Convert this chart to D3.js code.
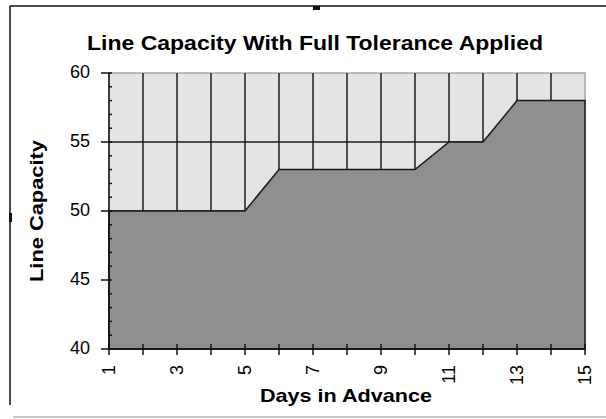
<!DOCTYPE html>
<html>
<head>
<meta charset="utf-8">
<script src="https://cdn.jsdelivr.net/npm/d3@7"></script>
<style>
  html, body { margin: 0; padding: 0; background: #fff; }
  svg { display: block; }
  text { font-family: "Liberation Sans", Arial, sans-serif; fill: #000; }
</style>
</head>
<body>
<div id="chart"></div>
<script>
// Days in advance and the line capacity available on each day
const days = [1, 2, 3, 4, 5, 6, 7, 8, 9, 10, 11, 12, 13, 14, 15];
const capacity = [50, 50, 50, 50, 50, 53, 53, 53, 53, 53, 55, 55, 58, 58, 58];
const yTicks = [40, 45, 50, 55, 60];
const yMinorTicks = d3.range(40, 61, 1);
const xTickLabels = [1, 3, 5, 7, 9, 11, 13, 15];

const W = 606, H = 419;
const svg = d3.select("#chart").append("svg").attr("width", W).attr("height", H);

const x = d3.scaleLinear().domain([1, 15]).range([109, 585]);
const y = d3.scaleLinear().domain([40, 60]).range([349, 73]);

// Outer chart frame
svg.append("line").attr("x1", 10).attr("x2", W).attr("y1", 6).attr("y2", 6)
  .attr("stroke", "#111").attr("stroke-width", 1.5);
svg.append("line").attr("x1", 10).attr("x2", 10).attr("y1", 6).attr("y2", 405)
  .attr("stroke", "#111").attr("stroke-width", 1.5);
svg.append("rect").attr("x", 313).attr("y", 6).attr("width", 7).attr("height", 4).attr("fill", "#111");
svg.append("rect").attr("x", 9).attr("y", 213).attr("width", 3).attr("height", 9).attr("fill", "#111");
svg.append("line").attr("x1", 13).attr("x2", W).attr("y1", 417).attr("y2", 417)
  .attr("stroke", "#c8c8c8").attr("stroke-width", 2);

// Plot background
svg.append("rect")
  .attr("x", x(1)).attr("y", y(60))
  .attr("width", x(15) - x(1)).attr("height", y(40) - y(60))
  .attr("fill", "#e3e3e3").attr("stroke", "#a8a8a8").attr("stroke-width", 1.5);

// Gridlines
const grid = svg.append("g").attr("stroke", "#1e1e1e").attr("stroke-width", 1.5);
grid.selectAll("line.v").data(days.slice(1, -1)).join("line")
  .attr("class", "v")
  .attr("x1", d => x(d)).attr("x2", d => x(d))
  .attr("y1", y(60)).attr("y2", y(40));
grid.selectAll("line.h").data(yTicks.slice(1, -1)).join("line")
  .attr("class", "h")
  .attr("x1", x(1)).attr("x2", x(15))
  .attr("y1", d => y(d)).attr("y2", d => y(d));

// Capacity area
const area = d3.area()
  .x((d, i) => x(days[i]))
  .y0(y(40))
  .y1(d => y(d));
svg.append("path").datum(capacity)
  .attr("d", area)
  .attr("fill", "#8f8f8f")
  .attr("stroke", "#1a1a1a").attr("stroke-width", 1.5)
  .attr("stroke-linejoin", "miter");

// Y axis
const yAxis = svg.append("g");
yAxis.append("line").attr("x1", x(1)).attr("x2", x(1)).attr("y1", y(60)).attr("y2", y(40))
  .attr("stroke", "#111").attr("stroke-width", 1.5);
yAxis.selectAll("line.minor").data(yMinorTicks).join("line")
  .attr("class", "minor")
  .attr("x1", x(1)).attr("x2", x(1) + 3)
  .attr("y1", d => y(d)).attr("y2", d => y(d))
  .attr("stroke", "#111").attr("stroke-width", 1.5);
yAxis.selectAll("line.major").data(yTicks).join("line")
  .attr("class", "major")
  .attr("x1", x(1) - 8).attr("x2", x(1))
  .attr("y1", d => y(d)).attr("y2", d => y(d))
  .attr("stroke", "#111").attr("stroke-width", 1.5);
yAxis.selectAll("text").data(yTicks).join("text")
  .attr("x", 90).attr("y", d => y(d)).attr("dy", "0.3em")
  .attr("text-anchor", "end").attr("font-size", 18)
  .text(d => d);

// X axis
const xAxis = svg.append("g");
xAxis.append("line").attr("x1", x(1)).attr("x2", x(15)).attr("y1", y(40)).attr("y2", y(40))
  .attr("stroke", "#111").attr("stroke-width", 1.5);
xAxis.selectAll("line.tick").data(days).join("line")
  .attr("class", "tick")
  .attr("x1", d => x(d)).attr("x2", d => x(d))
  .attr("y1", y(40) - 5).attr("y2", y(40) + 6)
  .attr("stroke", "#111").attr("stroke-width", 1.5);
xAxis.selectAll("text").data(xTickLabels).join("text")
  .attr("transform", d => `translate(${x(d)},365) rotate(-90)`)
  .attr("dy", "0.35em")
  .attr("text-anchor", "end").attr("font-size", 18)
  .text(d => d);

// Titles
svg.append("text")
  .attr("x", 315).attr("y", 50)
  .attr("text-anchor", "middle").attr("font-size", 20).attr("font-weight", "bold")
  .attr("textLength", 456).attr("lengthAdjust", "spacingAndGlyphs")
  .text("Line Capacity With Full Tolerance Applied");

svg.append("text")
  .attr("transform", "translate(43,211) rotate(-90)")
  .attr("text-anchor", "middle").attr("font-size", 19).attr("font-weight", "bold")
  .attr("textLength", 142).attr("lengthAdjust", "spacingAndGlyphs")
  .text("Line Capacity");

svg.append("text")
  .attr("x", 346).attr("y", 402)
  .attr("text-anchor", "middle").attr("font-size", 19).attr("font-weight", "bold")
  .attr("textLength", 172).attr("lengthAdjust", "spacingAndGlyphs")
  .text("Days in Advance");
</script>
</body>
</html>
